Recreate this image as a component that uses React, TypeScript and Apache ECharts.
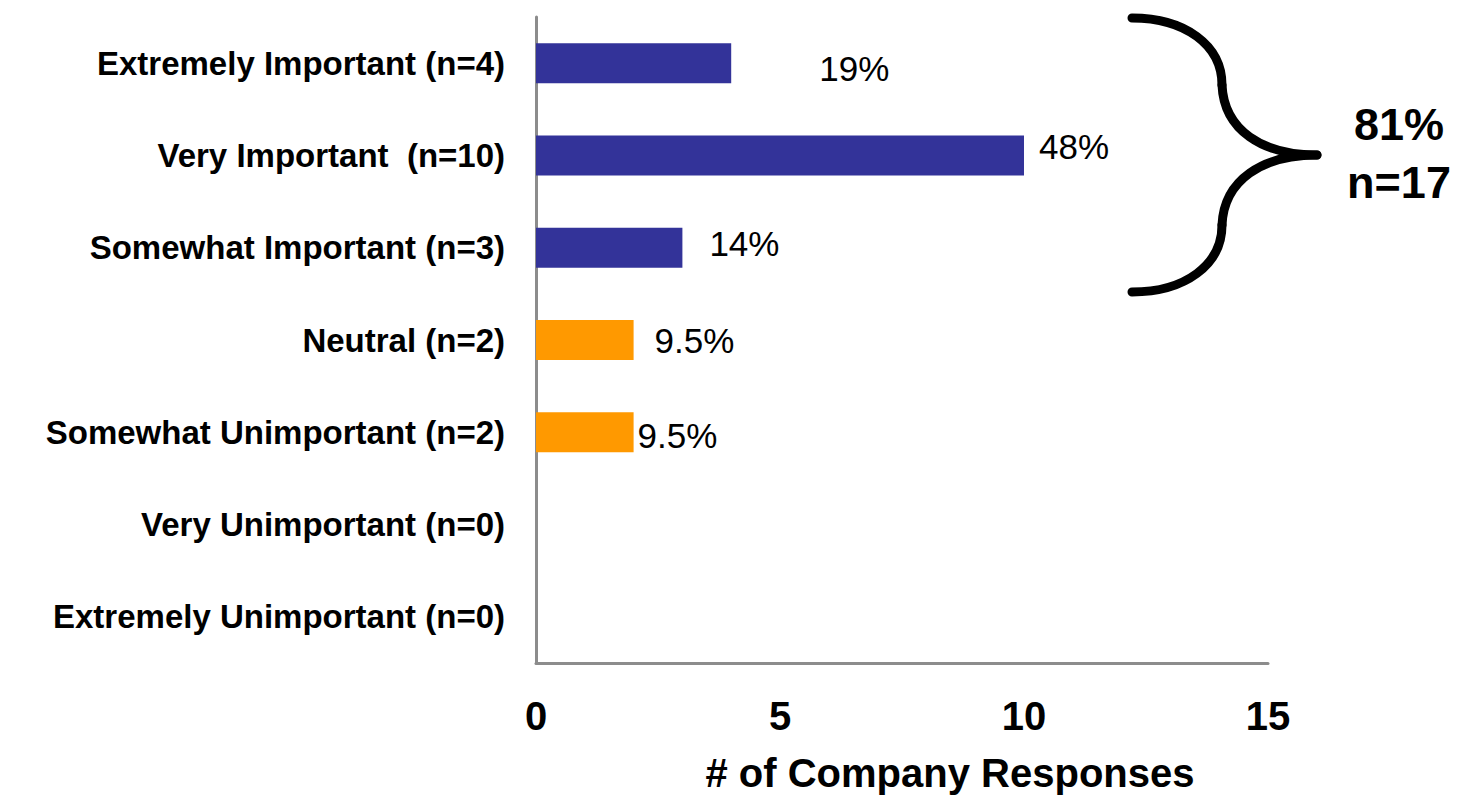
import React, { useEffect, useRef } from "react";
import * as echarts from "echarts";

const categories = [
  "Extremely Important (n=4)",
  "Very Important  (n=10)",
  "Somewhat Important (n=3)",
  "Neutral (n=2)",
  "Somewhat Unimportant (n=2)",
  "Very Unimportant (n=0)",
  "Extremely Unimportant (n=0)",
];
const responses = [4, 10, 3, 2, 2, 0, 0];
const percentLabels = ["19%", "48%", "14%", "9.5%", "9.5%", "", ""];
const xTicks = { min: 0, max: 15, interval: 5 };
const bracketLines = ["81%", "n=17"];

// styling (not data)
const barColors = ["#333399", "#333399", "#333399", "#FF9900", "#FF9900", "#FF9900", "#FF9900"];
const labelShift = [[88, 5], [15, -9], [27, -4], [21, 0], [4, 3], [0, 0], [0, 0]];

const FONT = "'Liberation Sans', Arial, sans-serif";

export default function App() {
  const ref = useRef<HTMLDivElement>(null);
  useEffect(() => {
    if (!ref.current) return;
    const chart = echarts.init(ref.current, undefined, { renderer: "svg" });
    const stroke = { stroke: "#000", lineWidth: 9, lineCap: "round", fill: null };
    chart.setOption({
      animation: false,
      backgroundColor: "#ffffff",
      textStyle: { fontFamily: FONT },
      grid: { left: 536, right: 192, top: 17, bottom: 129, containLabel: false },
      xAxis: {
        type: "value",
        min: xTicks.min,
        max: xTicks.max,
        interval: xTicks.interval,
        splitLine: { show: false },
        axisTick: { show: false },
        axisLine: { show: true, lineStyle: { color: "#8c8c8c", width: 3 } },
        axisLabel: {
          margin: 33,
          color: "#000",
          fontSize: 40,
          fontWeight: "bold",
          fontFamily: FONT,
        },
        name: "# of Company Responses",
        nameLocation: "middle",
        nameGap: 90,
        nameTextStyle: {
          color: "#000",
          fontSize: 40,
          fontWeight: "bold",
          fontFamily: FONT,
          padding: [0, 0, 0, 96],
        },
      },
      yAxis: {
        type: "category",
        data: categories,
        inverse: true,
        axisTick: { show: false },
        axisLine: { show: true, lineStyle: { color: "#8c8c8c", width: 3 } },
        axisLabel: {
          margin: 31,
          color: "#000",
          fontSize: 33,
          fontWeight: "bold",
          fontFamily: FONT,
        },
      },
      series: [
        {
          type: "bar",
          barWidth: 40,
          data: responses.map((v, i) => ({
            value: v,
            itemStyle: { color: barColors[i] },
            label: {
              show: percentLabels[i] !== "",
              position: "right",
              distance: 0,
              offset: labelShift[i],
              formatter: () => percentLabels[i],
              color: "#000",
              fontSize: 35,
              fontFamily: FONT,
            },
          })),
        },
      ],
      graphic: [
        {
          type: "group",
          children: [
            { type: "bezierCurve", shape: { x1: 1132, y1: 18, cpx1: 1185, cpy1: 18, cpx2: 1222, cpy2: 45, x2: 1222, y2: 85 }, style: stroke },
            { type: "bezierCurve", shape: { x1: 1222, y1: 85, cpx1: 1224, cpy1: 130, cpx2: 1262, cpy2: 155, x2: 1317, y2: 155 }, style: stroke },
            { type: "bezierCurve", shape: { x1: 1317, y1: 155, cpx1: 1262, cpy1: 155, cpx2: 1224, cpy2: 180, x2: 1222, y2: 225 }, style: stroke },
            { type: "bezierCurve", shape: { x1: 1222, y1: 225, cpx1: 1222, cpy1: 265, cpx2: 1185, cpy2: 292, x2: 1132, y2: 292 }, style: stroke },
          ],
        },
        {
          type: "text",
          x: 1399,
          y: 124,
          style: {
            text: bracketLines[0],
            fill: "#000",
            font: `bold 45px ${FONT}`,
            textAlign: "center",
            textVerticalAlign: "middle",
          },
        },
        {
          type: "text",
          x: 1399,
          y: 182,
          style: {
            text: bracketLines[1],
            fill: "#000",
            font: `bold 45px ${FONT}`,
            textAlign: "center",
            textVerticalAlign: "middle",
          },
        },
      ],
    });
    return () => chart.dispose();
  }, []);
  return (
    <div
      ref={ref}
      style={{ position: "fixed", left: 0, top: 0, width: 1460, height: 798, background: "#fff" }}
    />
  );
}
